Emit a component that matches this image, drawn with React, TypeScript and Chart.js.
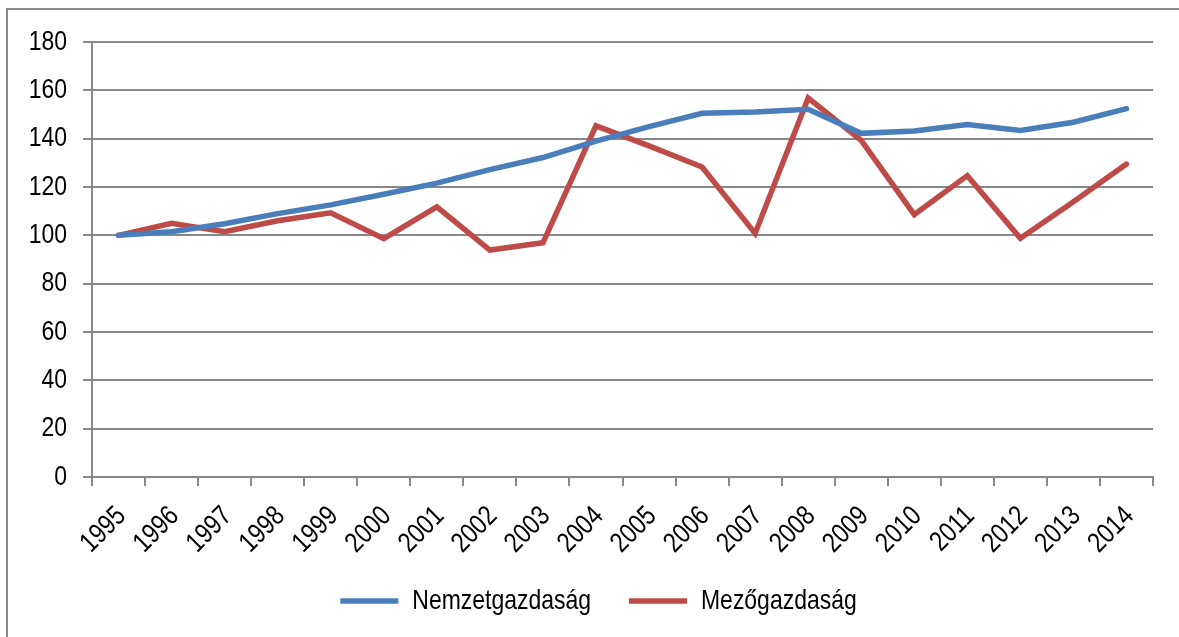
import React, { useEffect, useRef } from "react";
import { Chart, registerables } from "chart.js";

Chart.register(...registerables);

const years = ["1995","1996","1997","1998","1999","2000","2001","2002","2003","2004","2005","2006","2007","2008","2009","2010","2011","2012","2013","2014"];
const nemzetgazdasag = [100, 101.5, 104.8, 109, 112.6, 117, 121.6, 127.2, 132.2, 139, 145, 150.5, 151, 152.2, 142.2, 143.2, 145.9, 143.4, 146.8, 152.4];
const mezogazdasag = [100, 105, 101.5, 106, 109.3, 98.6, 111.8, 93.9, 96.9, 145.3, 137, 128.3, 100.8, 156.8, 139.3, 108.6, 124.7, 98.8, 113.9, 129.5];
const seriesNames = ["Nemzetgazdaság", "Mezőgazdaság"];
const yTicksMax = 180;
const yStep = 20;

const FONT = '"Liberation Sans", Arial, sans-serif';
const GRID = "#888888";
const LEGEND_SHIFT_X = 22;
const LEGEND_SHIFT_Y = -12;
const CONDENSE = 0.82;

function condenseText(ctx: CanvasRenderingContext2D) {
  const origFill = ctx.fillText.bind(ctx);
  const origMeasure = ctx.measureText.bind(ctx);
  (ctx as any).fillText = (text: string, x: number, y: number) => {
    ctx.save();
    ctx.translate(x, y);
    ctx.scale(CONDENSE, 1);
    origFill(text, 0, 0);
    ctx.restore();
  };
  (ctx as any).measureText = (text: string) => {
    const m = origMeasure(text);
    return {
      width: m.width * CONDENSE,
      actualBoundingBoxAscent: m.actualBoundingBoxAscent,
      actualBoundingBoxDescent: m.actualBoundingBoxDescent,
      actualBoundingBoxLeft: m.actualBoundingBoxLeft * CONDENSE,
      actualBoundingBoxRight: m.actualBoundingBoxRight * CONDENSE,
      fontBoundingBoxAscent: m.fontBoundingBoxAscent,
      fontBoundingBoxDescent: m.fontBoundingBoxDescent,
    };
  };
}

export default function App() {
  const ref = useRef<HTMLCanvasElement | null>(null);
  useEffect(() => {
    if (!ref.current) return;
    const ctx = ref.current.getContext("2d");
    if (ctx) condenseText(ctx);
    const shiftPlugin = {
      id: "legendShift",
      afterLayout(chart: any) {
        const lg = chart.legend;
        if (lg) {
          lg.left += LEGEND_SHIFT_X;
          lg.right += LEGEND_SHIFT_X;
          lg.top += LEGEND_SHIFT_Y;
          lg.bottom += LEGEND_SHIFT_Y;
        }
      },
    };
    const chart = new Chart(ref.current, {
      type: "line",
      data: {
        labels: years,
        datasets: [
          {
            label: seriesNames[0],
            data: nemzetgazdasag,
            borderColor: "#4A7EBB",
            backgroundColor: "#4A7EBB",
            borderWidth: 5.5,
            pointRadius: 0,
            tension: 0,
            borderCapStyle: "round",
          },
          {
            label: seriesNames[1],
            data: mezogazdasag,
            borderColor: "#BE4B48",
            backgroundColor: "#BE4B48",
            borderWidth: 5.5,
            pointRadius: 0,
            tension: 0,
            borderCapStyle: "round",
          },
        ],
      },
      options: {
        animation: false,
        responsive: false,
        devicePixelRatio: 1,
        layout: { padding: { left: 0, top: 42, right: 26, bottom: 0 } },
        plugins: {
          tooltip: { enabled: false },
          legend: {
            position: "bottom",
            labels: {
              usePointStyle: true,
              pointStyle: "line",
              pointStyleWidth: 58,
              padding: 38,
              color: "#000",
              font: { family: FONT, size: 28 },
            },
          },
        },
        scales: {
          x: {
            type: "category",
            offset: true,
            grid: {
              offset: true,
              drawOnChartArea: false,
              drawTicks: true,
              tickLength: 9,
              color: GRID,
              lineWidth: 2,
            },
            border: { color: GRID, width: 2 },
            ticks: {
              autoSkip: false,
              minRotation: 45,
              maxRotation: 45,
              padding: 14,
              labelOffset: 3,
              color: "#000",
              font: { family: FONT, size: 28 },
            },
            afterFit: (s: any) => {
              s.height = 84;
            },
          },
          y: {
            min: 0,
            max: yTicksMax,
            ticks: {
              stepSize: yStep,
              padding: 16,
              color: "#000",
              font: { family: FONT, size: 28 },
            },
            grid: { color: GRID, lineWidth: 2, tickLength: 9 },
            border: { color: GRID, width: 2 },
            afterFit: (s: any) => {
              s.width = 92;
            },
          },
        },
      },
      plugins: [shiftPlugin],
    });
    return () => chart.destroy();
  }, []);

  return (
    <div style={{ position: "fixed", left: 0, top: 0, width: 1179, height: 637, overflow: "hidden", background: "#fff" }}>
      <div
        style={{
          position: "absolute",
          left: 6,
          top: 8,
          width: 1300,
          height: 800,
          borderLeft: "2px solid #8a8a8a",
          borderTop: "2px solid #8a8a8a",
        }}
      />
      <canvas ref={ref} width={1179} height={637} style={{ position: "absolute", left: 0, top: 0 }} />
    </div>
  );
}
